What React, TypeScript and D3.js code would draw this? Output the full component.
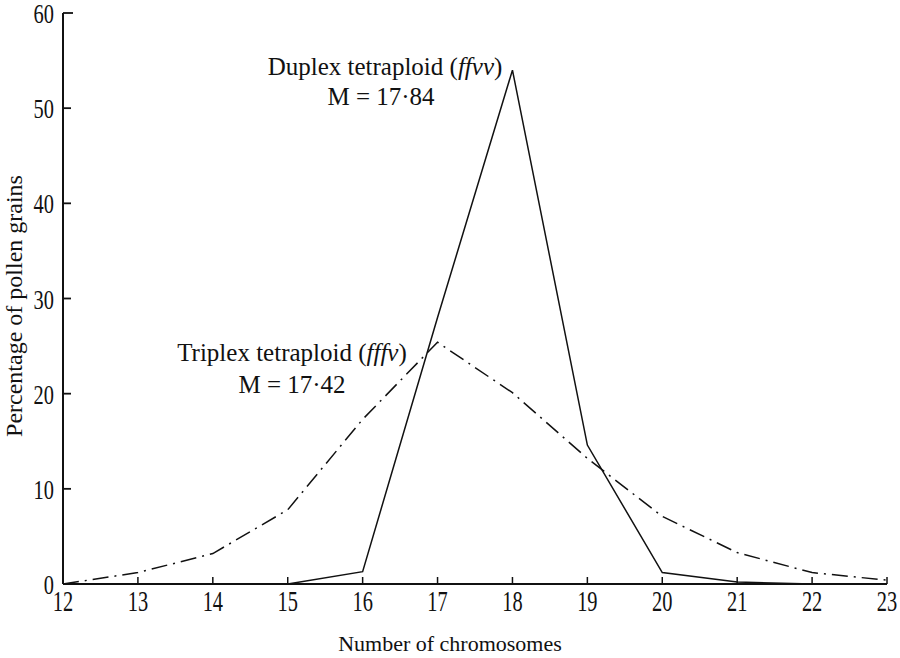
import React from 'react';
import * as d3 from 'd3';

const chromosomes = [12, 13, 14, 15, 16, 17, 18, 19, 20, 21, 22, 23];
const duplex = [0, 0, 0, 0, 1.3, 28, 54, 14.6, 1.2, 0.2, 0, 0];
const triplex = [0, 1.2, 3.2, 7.8, 17.3, 25.4, 20.1, 13.2, 7.1, 3.3, 1.2, 0.4];
const yTicks = [0, 10, 20, 30, 40, 50, 60];

const W = 900;
const H = 658;
const serif = '"Liberation Serif", "Times New Roman", serif';

export default function App() {
    const x = d3.scaleLinear().domain([12, 23]).range([63, 887]);
    const y = d3.scaleLinear().domain([0, 60]).range([584, 13]);

    const line = d3
        .line<number>()
        .x((d, i) => x(chromosomes[i]))
        .y((d) => y(d));

    return (
        <svg
            width={W}
            height={H}
            style={{ position: 'absolute', left: 0, top: 0, background: '#fff' }}
            fontFamily={serif}
        >
            {/* axes */}
            <line x1={x(12)} x2={x(12)} y1={y(60)} y2={y(0)} stroke="#111" strokeWidth={2} />
            <line x1={x(12)} x2={x(23)} y1={y(0)} y2={y(0)} stroke="#111" strokeWidth={2} />
            {yTicks.slice(1).map((t) => (
                <line key={'yt' + t} x1={x(12)} x2={x(12) + (t === 60 ? 10 : 8)} y1={y(t)} y2={y(t)} stroke="#111" strokeWidth={1.8} />
            ))}
            {chromosomes.slice(1).map((c) => (
                <line key={'xt' + c} x1={x(c)} x2={x(c)} y1={y(0)} y2={y(0) - 7} stroke="#111" strokeWidth={1.5} />
            ))}

            {/* tick labels */}
            {yTicks.map((t) => (
                <text
                    key={'yl' + t}
                    transform={`translate(${x(12) - 9},${y(t) + 10}) scale(0.85,1.1)`}
                    textAnchor="end"
                    fontSize={24}
                    fill="#111"
                >
                    {t}
                </text>
            ))}
            {chromosomes.map((c) => (
                <text
                    key={'xl' + c}
                    transform={`translate(${x(c)},${y(0) + 27}) scale(0.85,1.2)`}
                    textAnchor="middle"
                    fontSize={24}
                    fill="#111"
                >
                    {c}
                </text>
            ))}

            {/* axis titles */}
            <text x={450} y={651} textAnchor="middle" fontSize={22} fill="#111">
                Number of chromosomes
            </text>
            <text
                transform="translate(22,306) rotate(-90)"
                textAnchor="middle"
                fontSize={24}
                fill="#111"
            >
                Percentage of pollen grains
            </text>

            {/* series */}
            <path d={line(triplex) || ''} fill="none" stroke="#111" strokeWidth={1.5} strokeDasharray="16 6 2 6" />
            <path d={line(duplex) || ''} fill="none" stroke="#111" strokeWidth={1.5} />

            {/* annotations */}
            <text x={385} y={75} textAnchor="middle" fontSize={25} fill="#111">
                Duplex tetraploid (<tspan fontStyle="italic">ffvv</tspan>)
            </text>
            <text x={381} y={105} textAnchor="middle" fontSize={25} fill="#111">
                M = 17·84
            </text>
            <text x={292} y={361} textAnchor="middle" fontSize={25} fill="#111">
                Triplex tetraploid (<tspan fontStyle="italic">fffv</tspan>)
            </text>
            <text x={292} y={393} textAnchor="middle" fontSize={25} fill="#111">
                M = 17·42
            </text>
        </svg>
    );
}
